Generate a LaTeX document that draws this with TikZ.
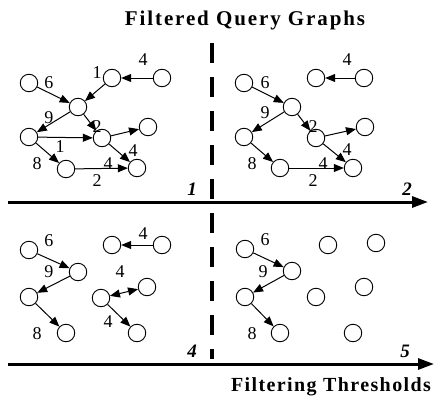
\documentclass[tikz,border=0pt]{standalone}
\usepackage{fontspec}
\setmainfont{Liberation Serif}
\newfontfamily\spacedA[LetterSpace=9]{Liberation Serif}
\newfontfamily\spacedB[LetterSpace=7]{Liberation Serif}
\usetikzlibrary{arrows.meta}
\begin{document}
\begin{tikzpicture}[x=1pt,y=-1pt,
  vtx/.style={circle,draw,line width=0.9pt,minimum size=17.5pt,inner sep=0pt},
  edge/.style={line width=1pt,-{Triangle[length=10pt,width=8pt]}},
  dedge/.style={line width=1pt,{Triangle[length=10pt,width=8pt]}-{Triangle[length=10pt,width=8pt]}},
  wt/.style={inner sep=0pt,font=\fontsize{18}{18}\selectfont},
  axis/.style={line width=3pt,-{Triangle[length=16pt,width=11pt]}},
  axlab/.style={inner sep=0pt,font=\fontsize{19}{19}\selectfont\bfseries\itshape},
  titleA/.style={inner sep=0pt,font=\fontsize{21}{21}\spacedA\bfseries},
  titleB/.style={inner sep=0pt,font=\fontsize{20}{20}\spacedB\bfseries}]
\useasboundingbox (0,0) rectangle (437,399);
\fill[white] (0,0) rectangle (437,399);

% titles
\node[titleA] (tt) at (245,20) {Filtered Query Graphs};
\node[titleB] (bt) at (331,387) {Filtering Thresholds};

% axes
\coordinate (h1s) at (8,202); \coordinate (h1e) at (428,202);
\coordinate (h2s) at (8,364); \coordinate (h2e) at (434,364);
\draw[axis] (h1s) -- (h1e);
\draw[axis] (h2s) -- (h2e);
\coordinate (vs) at (212,43); \coordinate (ve) at (212,359);
\draw[line width=4pt,dash pattern=on 20pt off 14pt] (vs) -- (ve);
\node[axlab] (n1) at (192,189) {1};
\node[axlab] (n2) at (407,189) {2};
\node[axlab] (n4) at (192,351) {4};
\node[axlab] (n5) at (405,351) {5};

% panel 1
\node[vtx] (A) at (29,83) {};
\node[vtx] (B) at (78,107) {};
\node[vtx] (C) at (112,78) {};
\node[vtx] (D) at (162,78) {};
\node[vtx] (E) at (29,137) {};
\node[vtx] (F) at (102,138) {};
\node[vtx] (G) at (148,127) {};
\node[vtx] (H) at (137,168) {};
\node[vtx] (I) at (66,169) {};
\draw[edge] (D) -- (C);
\draw[edge] (C) -- (B);
\draw[edge] (A) -- (B);
\draw[edge] (B) -- (E);
\draw[edge] (B) -- (F);
\draw[edge] (E) -- (F);
\draw[edge] (F) -- (G);
\draw[edge] (F) -- (H);
\draw[edge] (E) -- (I);
\draw[edge] (I) -- (H);
\node[wt] (w1a) at (143,60) {4};
\node[wt] (w1b) at (97,73) {1};
\node[wt] (w1c) at (49,83) {6};
\node[wt] (w1d) at (49,118) {9};
\node[wt] (w1e) at (97,127) {2};
\node[wt] (w1f) at (60,147) {1};
\node[wt] (w1g) at (133,151) {4};
\node[wt] (w1h) at (37,164) {8};
\node[wt] (w1i) at (108,164) {4};
\node[wt] (w1j) at (97,181) {2};

% panel 2
\node[vtx] (A2) at (244,83) {};
\node[vtx] (B2) at (292,107) {};
\node[vtx] (C2) at (316,78) {};
\node[vtx] (D2) at (364,78) {};
\node[vtx] (E2) at (244,137) {};
\node[vtx] (F2) at (316,138) {};
\node[vtx] (G2) at (365,127) {};
\node[vtx] (H2) at (353,168) {};
\node[vtx] (I2) at (280,168) {};
\draw[edge] (D2) -- (C2);
\draw[edge] (A2) -- (B2);
\draw[edge] (B2) -- (E2);
\draw[edge] (B2) -- (F2);
\draw[edge] (F2) -- (G2);
\draw[edge] (F2) -- (H2);
\draw[edge] (E2) -- (I2);
\draw[edge] (I2) -- (H2);
\node[wt] (w2a) at (347,60) {4};
\node[wt] (w2c) at (265,83) {6};
\node[wt] (w2d) at (265,113) {9};
\node[wt] (w2e) at (313,127) {2};
\node[wt] (w2g) at (347,150) {4};
\node[wt] (w2h) at (252,164) {8};
\node[wt] (w2i) at (323,164) {4};
\node[wt] (w2j) at (313,181) {2};

% panel 4
\node[vtx] (a) at (29,250) {};
\node[vtx] (b) at (78,272) {};
\node[vtx] (c) at (29,297) {};
\node[vtx] (d) at (66,333) {};
\node[vtx] (e) at (112,245) {};
\node[vtx] (f) at (162,245) {};
\node[vtx] (g) at (101,298) {};
\node[vtx] (h) at (147,287) {};
\node[vtx] (i) at (137,333) {};
\draw[edge] (a) -- (b);
\draw[edge] (b) -- (c);
\draw[edge] (c) -- (d);
\draw[edge] (f) -- (e);
\draw[dedge] (g) -- (h);
\draw[edge] (g) -- (i);
\node[wt] (w4a) at (49,241) {6};
\node[wt] (w4b) at (49,272) {9};
\node[wt] (w4c) at (37,334) {8};
\node[wt] (w4d) at (143,234) {4};
\node[wt] (w4e) at (120,272) {4};
\node[wt] (w4f) at (108,322) {4};

% panel 5
\node[vtx] (a5) at (245,249) {};
\node[vtx] (b5) at (292,271) {};
\node[vtx] (c5) at (245,297) {};
\node[vtx] (d5) at (280,333) {};
\node[vtx] (e5) at (328,245) {};
\node[vtx] (f5) at (376,243) {};
\node[vtx] (g5) at (364,287) {};
\node[vtx] (h5) at (316,297) {};
\node[vtx] (i5) at (353,333) {};
\draw[edge] (a5) -- (b5);
\draw[edge] (b5) -- (c5);
\draw[edge] (c5) -- (d5);
\node[wt] (w5a) at (265,240) {6};
\node[wt] (w5b) at (263,272) {9};
\node[wt] (w5c) at (252,334) {8};
\end{tikzpicture}
\end{document}
